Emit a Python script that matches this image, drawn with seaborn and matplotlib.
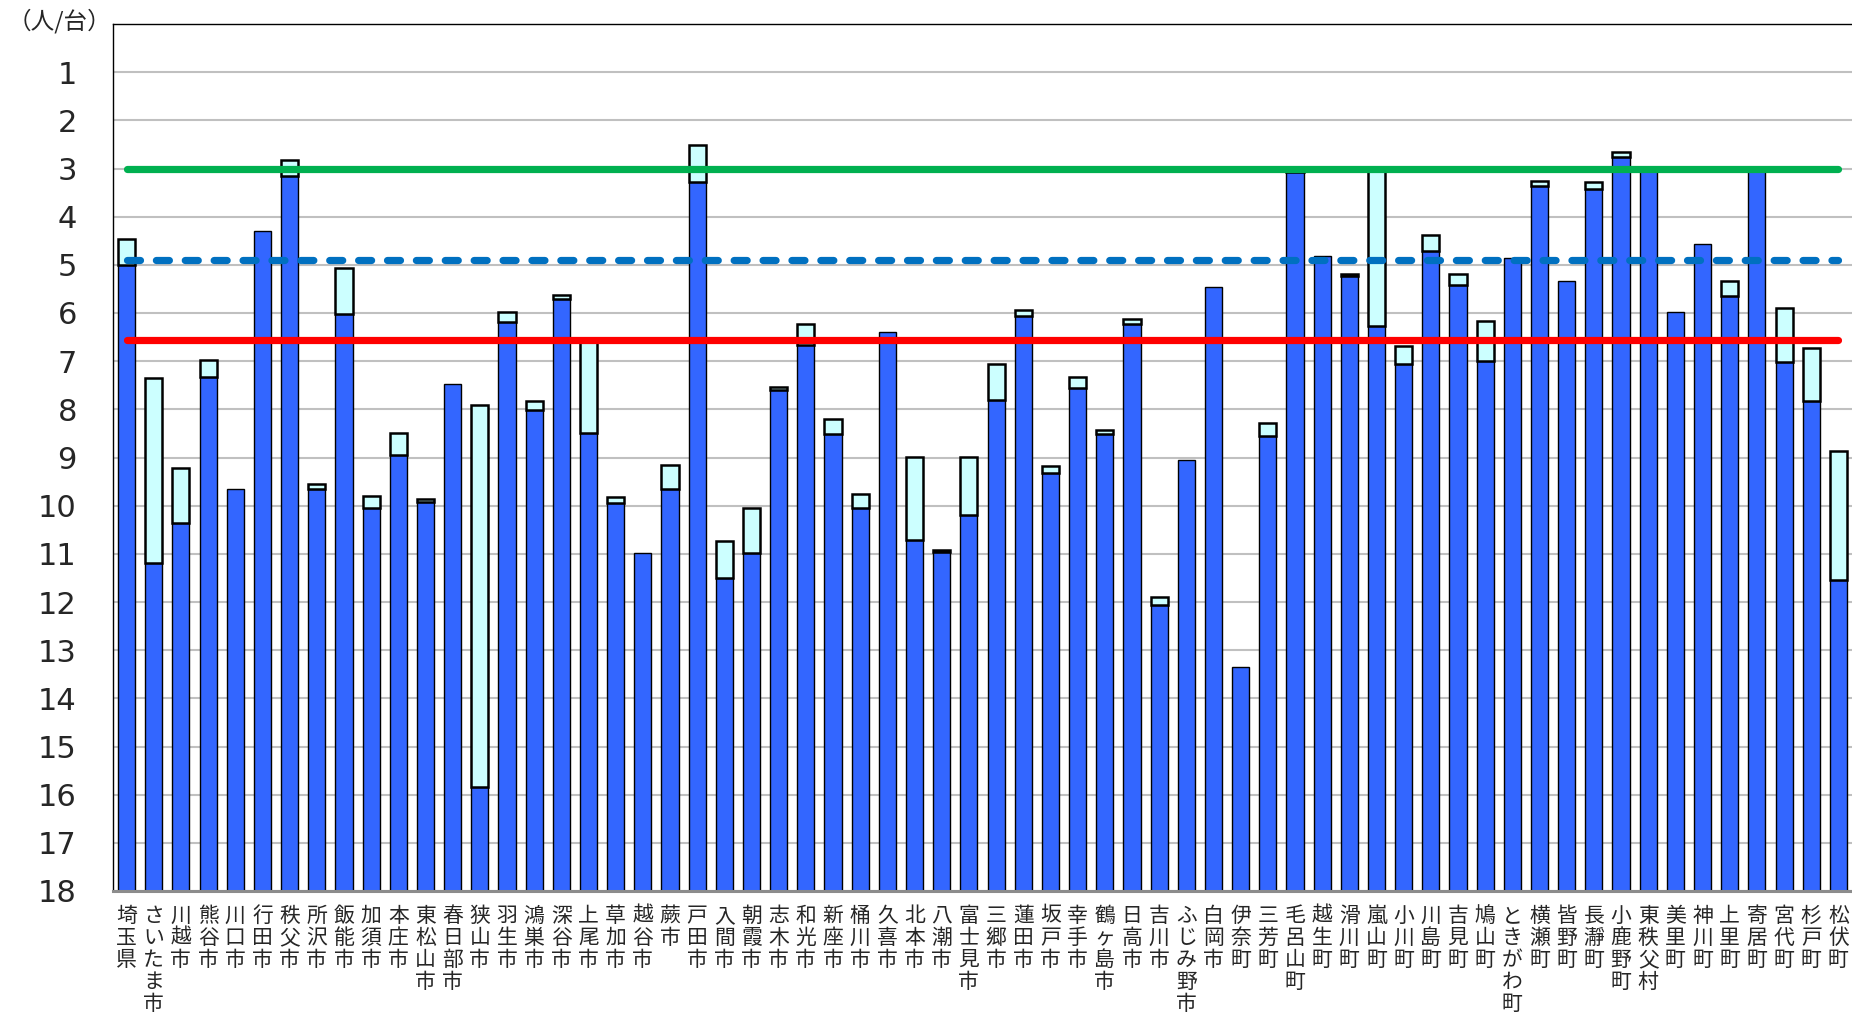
# -*- coding: utf-8 -*-
import numpy as np
import pandas as pd
import matplotlib
matplotlib.use("Agg")
import matplotlib.pyplot as plt
import seaborn as sns

# Datos
municipios = ["埼玉県", "さいたま市", "川越市", "熊谷市", "川口市", "行田市", "秩父市", "所沢市",
              "飯能市", "加須市", "本庄市", "東松山市", "春日部市", "狭山市", "羽生市", "鴻巣市",
              "深谷市", "上尾市", "草加市", "越谷市", "蕨市", "戸田市", "入間市", "朝霞市",
              "志木市", "和光市", "新座市", "桶川市", "久喜市", "北本市", "八潮市", "富士見市",
              "三郷市", "蓮田市", "坂戸市", "幸手市", "鶴ヶ島市", "日高市", "吉川市", "ふじみ野市",
              "白岡市", "伊奈町", "三芳町", "毛呂山町", "越生町", "滑川町", "嵐山町", "小川町",
              "川島町", "吉見町", "鳩山町", "ときがわ町", "横瀬町", "皆野町", "長瀞町", "小鹿野町",
              "東秩父村", "美里町", "神川町", "上里町", "寄居町", "宮代町", "杉戸町", "松伏町"]

valor_azul = [5.00, 11.20, 10.35, 7.33, 9.65, 4.30, 3.15, 9.66,
              6.03, 10.04, 8.95, 9.92, 7.48, 15.85, 6.19, 8.02,
              5.70, 8.49, 9.94, 10.99, 9.65, 3.27, 11.51, 10.99,
              7.59, 6.66, 8.51, 10.05, 6.40, 10.71, 10.97, 10.19,
              7.81, 6.07, 9.33, 7.56, 8.52, 6.22, 12.06, 9.06,
              5.45, 13.34, 8.56, 3.07, 4.81, 5.23, 6.28, 7.06,
              4.71, 5.41, 6.99, 4.85, 3.37, 5.33, 3.43, 2.77,
              3.02, 5.98, 4.56, 5.64, 2.98, 7.02, 7.83, 11.54]

valor_celeste = [4.46, 7.35, 9.22, 6.98, None, None, 2.82, 9.54,
                 5.06, 9.80, 8.50, 9.87, None, 7.90, 5.98, 7.83,
                 5.62, 6.60, 9.82, None, 9.15, 2.51, 10.74, 10.04,
                 7.54, 6.22, 8.20, 9.76, None, 8.99, 10.92, 8.98,
                 7.06, 5.94, 9.18, 7.32, 8.42, 6.12, 11.89, None,
                 None, None, 8.29, 2.97, None, 5.19, 2.98, 6.69,
                 4.39, 5.18, 6.16, None, 3.25, None, 3.28, 2.66,
                 None, None, None, 5.33, None, 5.90, 6.72, 8.87]

linea_verde = 3.0
linea_azul = 4.9
linea_roja = 6.57

eje_min, eje_max = 0, 18

df = pd.DataFrame({"municipio": municipios, "azul": valor_azul,
                   "celeste": pd.to_numeric(pd.Series(valor_celeste), errors="coerce")})
df_cel = df.dropna(subset=["celeste"])
n = len(municipios)

sns.set_style("white")
plt.rcParams["font.family"] = ["DejaVu Sans", "Noto Sans CJK JP"]

fig = plt.figure(figsize=(18.52, 10.16), dpi=100)
ax = fig.add_axes([113 / 1852, 1 - 891 / 1016, 1 - 113 / 1852, (891 - 24) / 1016])

# Barras azules desde el fondo (18) hasta el valor
sns.barplot(data=df, x="municipio", y=df["azul"] - eje_max, order=municipios, bottom=eje_max,
            color="#3366FF", edgecolor="black", linewidth=1.0, width=0.63, errorbar=None,
            saturation=1, zorder=2, ax=ax)
# Segmento celeste encima
sns.barplot(data=df_cel, x="municipio", y=df_cel["celeste"] - df_cel["azul"], order=municipios,
            bottom=df_cel["azul"].values, color="#CCFFFF", edgecolor="black", linewidth=1.8,
            width=0.63, errorbar=None, saturation=1, zorder=2.5, ax=ax)

# Líneas de referencia
ax.plot([0, n - 1], [linea_verde] * 2, color="#00B050", lw=5.2, solid_capstyle="round", zorder=4)
ax.plot([0, n - 1], [linea_azul] * 2, color="#0070C0", lw=5.2, dashes=(1.8, 2.2),
        dash_capstyle="round", zorder=4)
ax.plot([0, n - 1], [linea_roja] * 2, color="#FF0000", lw=5.2, solid_capstyle="round", zorder=4)

ax.set_ylim(eje_max, eje_min)
ax.set_xlim(-0.5, n - 0.5)
ax.set_yticks(range(1, 19))
ax.set_yticklabels([str(i) for i in range(1, 19)], fontsize=22)
ax.yaxis.grid(True, color="#c0c0c0", lw=1.5)
ax.set_axisbelow(True)

ax.set_xticks(range(n))
ax.set_xticklabels(["\n".join(m) for m in municipios], fontsize=15, linespacing=1.0,
                   va="top", family=["Noto Sans CJK JP", "DejaVu Sans"])
ax.set_xticks(np.arange(-0.5, n, 1), minor=True)
ax.tick_params(axis="y", length=0, pad=26)
ax.tick_params(axis="x", which="major", length=0, pad=10)
ax.tick_params(axis="x", which="minor", direction="in", length=4, width=1.5, color="#8c8c8c")
ax.set_xlabel("")
ax.set_ylabel("")

for lado in ["left", "top"]:
    ax.spines[lado].set_color("black")
    ax.spines[lado].set_linewidth(1.0)
ax.spines["right"].set_visible(False)
ax.spines["bottom"].set_color("#8c8c8c")
ax.spines["bottom"].set_linewidth(2.2)

fig.text(0.004, 1 - 21 / 1016, "（人/台）", fontsize=17, va="center", ha="left",
         family=["Noto Sans CJK JP", "DejaVu Sans"])

fig.savefig("out.png", dpi=100, facecolor="white")
